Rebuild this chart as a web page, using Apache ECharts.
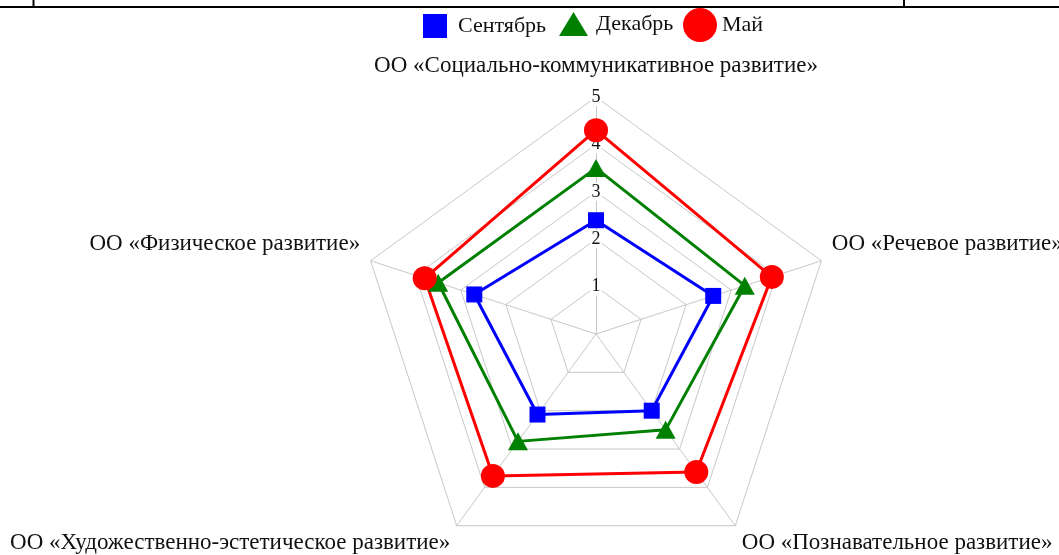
<!DOCTYPE html>
<html><head><meta charset="utf-8">
<script src="https://cdn.jsdelivr.net/npm/echarts@6/dist/echarts.min.js"></script>
<style>html,body{margin:0;padding:0;background:#fff}#c{width:1059px;height:555px}</style>
</head><body><div id="c"></div>
<script>
// Indicators in ECharts (counter-clockwise) order starting from the top
const indicators = [
  'ОО «Социально-коммуникативное развитие»',
  'ОО «Физическое развитие»',
  'ОО «Художественно-эстетическое развитие»',
  'ОО «Познавательное развитие»',
  'ОО «Речевое развитие»'
];
const seriesNames = ['Сентябрь', 'Декабрь', 'Май'];
const septValues = [2.4, 2.7, 2.1, 2.0, 2.6];
const decValues  = [3.5, 3.5, 2.8, 2.5, 3.3];
const mayValues  = [4.3, 3.8, 3.7, 3.6, 3.9];
const axisMax = 5;
const axisStep = 1;

const FONT = '"Liberation Serif", "Times New Roman", serif';
const TXT = '#111';
const CENTER = [596, 334];
const RADIUS = 237;

const nameKey = {};
nameKey[indicators[0]] = 't';
nameKey[indicators[1]] = 's';
nameKey[indicators[4]] = 's';
nameKey[indicators[2]] = 'b';
nameKey[indicators[3]] = 'b';

const chart = echarts.init(document.getElementById('c'), null, {renderer: 'canvas'});
const legendBase = {
  orient: 'horizontal',
  padding: 0,
  textStyle: {fontFamily: FONT, fontSize: 22, color: TXT, padding: [0, 0, 0, 6]},
  itemGap: 0
};
chart.setOption({
  backgroundColor: '#fff',
  animation: false,
  legend: [
    Object.assign({}, legendBase, {data: [{name: seriesNames[0], icon: 'rect'}], left: 423, top: 14, itemWidth: 24, itemHeight: 24}),
    Object.assign({}, legendBase, {data: [{name: seriesNames[1], icon: 'triangle'}], left: 559, top: 12, itemWidth: 29, itemHeight: 24,
      textStyle: Object.assign({}, legendBase.textStyle, {padding: [0, 0, 0, 3]})}),
    Object.assign({}, legendBase, {data: [{name: seriesNames[2], icon: 'circle'}], left: 683, top: 8, itemWidth: 34, itemHeight: 34,
      textStyle: Object.assign({}, legendBase.textStyle, {padding: [0, 0, 0, 0]})})
  ],
  radar: {
    center: CENTER,
    radius: RADIUS,
    startAngle: 90,
    splitNumber: axisMax / axisStep,
    nameGap: 11,
    z: 1,
    indicator: indicators.map(n => ({name: n, max: axisMax, min: 0})),
    axisName: {
      color: TXT,
      fontFamily: FONT,
      fontSize: 23,
      formatter: function (name) { return '{' + nameKey[name] + '|' + name + '}'; },
      rich: {
        t: {fontFamily: FONT, fontSize: 23, color: TXT, padding: [0, 0, 9, 0]},
        s: {fontFamily: FONT, fontSize: 23, color: TXT, padding: [0, 0, 26, 0]},
        b: {fontFamily: FONT, fontSize: 23, color: TXT, padding: [16, 0, 0, 0]}
      }
    },
    splitLine: {lineStyle: {color: '#c8c8c8', width: 1}},
    splitArea: {show: false},
    axisLine: {lineStyle: {color: '#c8c8c8', width: 1}}
  },
  polar: {center: CENTER, radius: RADIUS},
  angleAxis: {show: false, startAngle: 90, min: 0, max: 360},
  radiusAxis: {
    min: 0, max: axisMax, interval: axisStep,
    z: 1.5,
    axisLine: {show: false},
    axisTick: {show: false},
    splitLine: {show: false},
    axisLabel: {
      show: true, margin: 0, align: 'center', verticalAlign: 'middle',
      showMinLabel: false,
      fontFamily: FONT, fontSize: 18, color: TXT,
      backgroundColor: '#fff', padding: [0, 1]
    }
  },
  series: [{
    type: 'radar',
    z: 3,
    data: [
      {name: seriesNames[0], value: septValues, symbol: 'rect', symbolSize: 16,
       itemStyle: {color: '#0000ff'}, lineStyle: {color: '#0000ff', width: 3}},
      {name: seriesNames[1], value: decValues, symbol: 'triangle', symbolSize: [20, 18],
       itemStyle: {color: '#008000'}, lineStyle: {color: '#008000', width: 3}},
      {name: seriesNames[2], value: mayValues, symbol: 'circle', symbolSize: 24,
       itemStyle: {color: '#ff0000'}, lineStyle: {color: '#ff0000', width: 3}}
    ]
  }],
  graphic: [
    {type: 'line', shape: {x1: 0, y1: 7, x2: 1059, y2: 7}, style: {stroke: '#000', lineWidth: 2}},
    {type: 'line', shape: {x1: 33.5, y1: 0, x2: 33.5, y2: 7}, style: {stroke: '#000', lineWidth: 2}},
    {type: 'line', shape: {x1: 904, y1: 0, x2: 904, y2: 7}, style: {stroke: '#000', lineWidth: 2}}
  ]
});
</script></body></html>
